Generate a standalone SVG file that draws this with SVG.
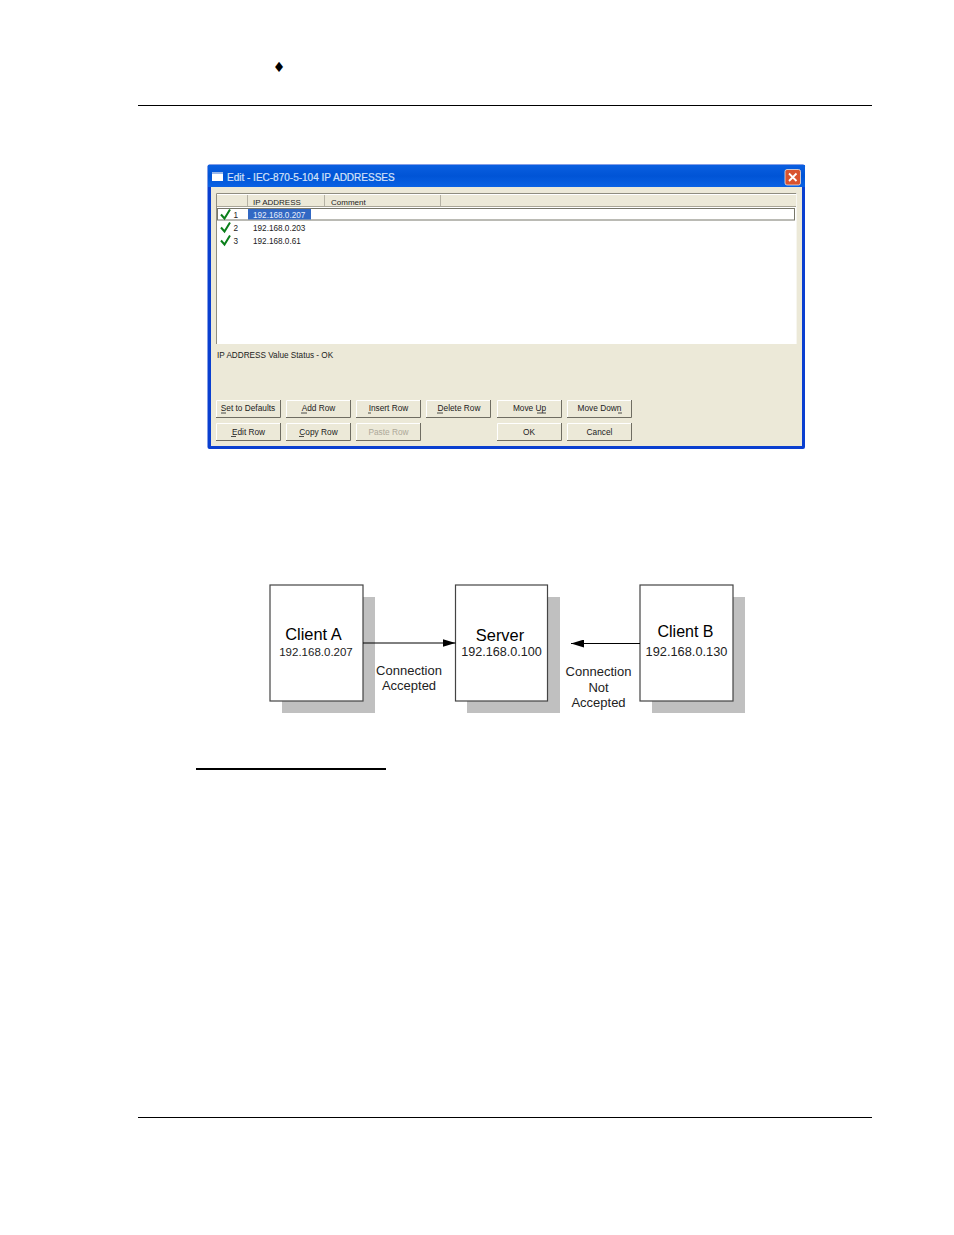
<svg xmlns="http://www.w3.org/2000/svg" width="954" height="1235" viewBox="0 0 954 1235">
<style>
.ui{font-family:"Liberation Sans",Arial,sans-serif;font-size:8.2px;fill:#222}
.btn{font-family:"Liberation Sans",Arial,sans-serif;font-size:8.3px;fill:#222;text-anchor:middle}
.lab{font-family:"Liberation Sans",Arial,sans-serif;font-size:13px;fill:#222;text-anchor:middle}
.ttl{font-family:"Liberation Sans",Arial,sans-serif;font-size:16.400px;fill:#000;text-anchor:middle}
.box{fill:#fff;stroke:#444;stroke-width:1.2}
.sh{fill:#c0c0c0}
.chk{fill:none;stroke:#0a7f1a;stroke-width:2}
</style>
<defs>
<marker id="ah" markerWidth="13" markerHeight="8" refX="13" refY="4" orient="auto" markerUnits="userSpaceOnUse"><path d="M0 0L13 4L0 8Z" fill="#000"/></marker>
<linearGradient id="tb" x1="0" y1="0" x2="0" y2="1"><stop offset="0" stop-color="#0a5fe0"/><stop offset="0.5" stop-color="#0054d6"/><stop offset="1" stop-color="#0a62e4"/></linearGradient>
<g id="bt"><rect x="0" y="0" width="65" height="18" fill="#ece9d8"/><path d="M0.500 17.500V0.500H64" fill="none" stroke="#fff"/><path d="M0 17.500H64.500V0" fill="none" stroke="#6f6d62"/></g>
</defs>
<rect width="954" height="1235" fill="#fff"/>
<text x="279" y="71.500" font-family="DejaVu Sans, sans-serif" font-size="14" text-anchor="middle" fill="#000">♦</text>
<rect x="138" y="105" width="734" height="1" fill="#000"/>
<rect x="138" y="1117" width="734" height="1" fill="#000"/>
<rect x="196" y="768" width="190" height="2" fill="#000"/>

<g id="dialog">
<rect x="207.500" y="164.500" width="597.500" height="284.500" rx="2" fill="#0a3fd0"/>
<rect x="208" y="165" width="597" height="22" fill="url(#tb)"/>
<rect x="211" y="187" width="591" height="259" fill="#ece9d8"/>
<rect x="212" y="173" width="11" height="8" fill="#fff"/>
<rect x="212" y="172" width="11" height="2" fill="#9ab8ea"/>
<text x="227" y="181" font-family="Liberation Sans, Arial, sans-serif" font-size="10" font-weight="400" fill="#d6e2f8" stroke="#d6e2f8" stroke-width="0.200">Edit - IEC-870-5-104 IP ADDRESSES</text>
<rect x="785" y="169.500" width="15.500" height="15.500" rx="2" fill="#d9532f" stroke="#e9e4e0" stroke-width="0.800"/>
<path d="M789 173.500L796.500 181M796.500 173.500L789 181" stroke="#fff" stroke-width="1.800"/>
<rect x="216" y="193" width="581" height="151" fill="#fff"/>
<path d="M216.500 344V193.500H796.500" fill="none" stroke="#8f8d80"/>
<path d="M796.500 193.500V344" fill="none" stroke="#f7f6f0"/>
<rect x="217" y="195" width="579" height="11" fill="#ece9d8"/>
<path d="M217 206.500H796" stroke="#a8a596"/>
<path d="M247.500 195V206M324.500 195V206M440.500 195V206" stroke="#b5b2a4"/>
<text class="ui" x="253" y="204.500" style="font-size:8px">IP ADDRESS</text>
<text class="ui" x="331" y="204.500" style="font-size:8px">Comment</text>
<rect x="217.500" y="208.500" width="577" height="11.500" fill="#fff" stroke="#77776a" stroke-width="1"/>
<rect x="248" y="209" width="63" height="10.500" fill="#3168c4"/>
<path class="chk" d="M221 214.500L224.500 218.500L230 209.500"/>
<path class="chk" d="M221 227.500L224.500 231.500L230 222.500"/>
<path class="chk" d="M221 240.500L224.500 244.500L230 235.500"/>
<text class="ui" x="233.500" y="217.500">1</text>
<text class="ui" x="233.500" y="230.500">2</text>
<text class="ui" x="233.500" y="243.500">3</text>
<text class="ui" x="253" y="217.500" style="fill:#e8eefa">192.168.0.207</text>
<text class="ui" x="253" y="230.500">192.168.0.203</text>
<text class="ui" x="253" y="243.500">192.168.0.61</text>
<text class="ui" x="217" y="357.500">IP ADDRESS Value Status - OK</text>
<use href="#bt" x="216" y="400"/>
<use href="#bt" x="286" y="400"/>
<use href="#bt" x="356" y="400"/>
<use href="#bt" x="426" y="400"/>
<use href="#bt" x="497" y="400"/>
<use href="#bt" x="567" y="400"/>
<use href="#bt" x="216" y="423"/>
<use href="#bt" x="286" y="423"/>
<use href="#bt" x="356" y="423"/>
<use href="#bt" x="497" y="423"/>
<use href="#bt" x="567" y="423"/>
<text class="btn" x="248" y="411">Set to Defaults</text>
<text class="btn" x="318.500" y="411">Add Row</text>
<text class="btn" x="388.500" y="411">Insert Row</text>
<text class="btn" x="459" y="411">Delete Row</text>
<text class="btn" x="529.500" y="411">Move Up</text>
<text class="btn" x="599.500" y="411">Move Down</text>
<text class="btn" x="248.500" y="434.500">Edit Row</text>
<text class="btn" x="318.500" y="434.500">Copy Row</text>
<text class="btn" x="388.500" y="434.500" style="fill:#aca899">Paste Row</text>
<text class="btn" x="529" y="434.500">OK</text>
<text class="btn" x="599.500" y="434.500">Cancel</text>
<path d="M221 413H226M301 413H307M368 413H371M437 413H443M537 413H546M618 413H622M231 436.500H236M299 436.500H304" stroke="#222" stroke-width="0.800"/>
</g>

<g id="client-a">
<rect class="sh" x="282" y="597" width="93" height="116"/>
<rect class="box" x="270" y="585" width="93" height="116"/>
<text class="ttl" x="313.500" y="640">Client A</text>
<text class="lab" x="316" y="656" style="font-size:11.500px">192.168.0.207</text>
</g>
<g id="server">
<rect class="sh" x="467" y="597" width="93" height="116"/>
<rect class="box" x="455.500" y="585" width="92" height="116"/>
<text class="ttl" x="500" y="640.500">Server</text>
<text class="lab" x="501.500" y="656" style="font-size:12.600px">192.168.0.100</text>
</g>
<g id="client-b">
<rect class="sh" x="652" y="597" width="93" height="116"/>
<rect class="box" x="640" y="585" width="93" height="116"/>
<text class="ttl" x="685.500" y="636.500" style="font-size:16px">Client B</text>
<text class="lab" x="686.500" y="656" style="font-size:12.800px">192.168.0.130</text>
</g>
<g id="connectors">
<line x1="363" y1="643" x2="455.500" y2="643" stroke="#000" stroke-width="1" marker-end="url(#ah)"/>
<line x1="640" y1="643.500" x2="571" y2="643.500" stroke="#000" stroke-width="1" marker-end="url(#ah)"/>
</g>
<g id="labels">
<text class="lab" x="409" y="675">Connection</text>
<text class="lab" x="409" y="690">Accepted</text>
<text class="lab" x="598.500" y="676">Connection</text>
<text class="lab" x="598.500" y="691.500">Not</text>
<text class="lab" x="598.500" y="707">Accepted</text>
</g>
</svg>
